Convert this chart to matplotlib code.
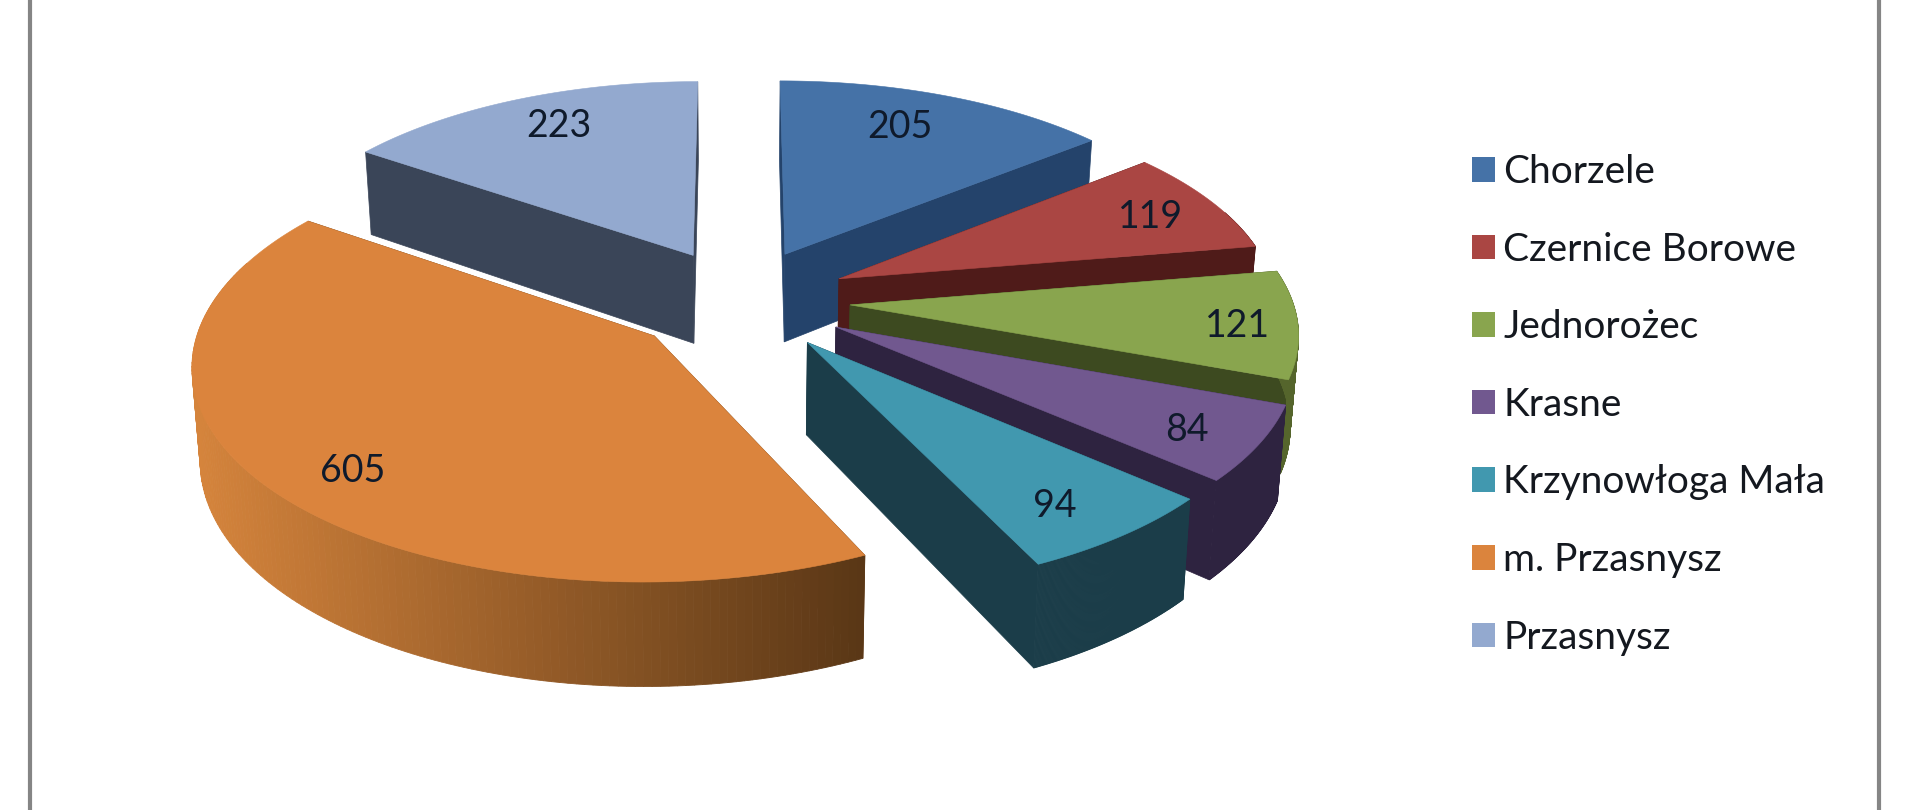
import numpy as np
import matplotlib
matplotlib.use('Agg')
import matplotlib.pyplot as plt
from matplotlib.patches import Polygon, Patch

plt.rcParams['font.family'] = ['Lato', 'DejaVu Sans']

# data
gminy = ['Chorzele', 'Czernice Borowe', 'Jednorożec', 'Krasne',
         'Krzynowłoga Mała', 'm. Przasnysz', 'Przasnysz']
values = [205, 119, 121, 84, 94, 605, 223]

# colours
top_colors = ['#4572a7', '#aa4643', '#89a54e', '#71588f', '#4198af', '#db843d', '#93a9cf']
cut_colors = ['#24436b', '#4f1b19', '#3d4a20', '#2e2340', '#1b3d49', '#6a4019', '#3a4558']
rim_left = ['#24436b', '#4f1b19', '#55652c', '#2e2340', '#1b3d49', '#d5843c', '#3a4558']
rim_right = ['#24436b', '#4f1b19', '#55652c', '#2e2340', '#1b3d49', '#5a3716', '#3a4558']

# layout of the fake 3d pie, in pixels of the output
CX, CY = 738, 300
A, B = 449, 208
H = 90
PERSP = 0.12
explode = [0.25, 0.25, 0.25, 0.25, 0.25, 0.24, 0.22]
radius = [0.98, 0.975, 0.985, 0.998, 1.0, 1.0, 0.975]
shift_y = [0, 0, 0, 0, 0, 3, -5]
label_r = [0.75, 0.82, 0.85, 0.83, 0.80, 0.80, 0.77]
label_dx = [-12, -3, 2, 3, 1, 2, 8]
label_dy = [-4, 4, 4, 7, 12, 19, -9]


def project(u, v, h=0.0, dy=0):
    s = 1 / (1 + PERSP * v)
    x = CX + A * u * s
    y = CY - B * v * s
    x = CX + (x - CX) * (1 - 0.015 * h)
    return x, y + H * s * h + dy


fig = plt.figure(figsize=(19.2, 8.1), dpi=100)
ax = fig.add_axes([0, 0, 1, 1])
ax.set_xlim(0, 1920)
ax.set_ylim(810, 0)
ax.axis('off')

ax.axvline(30, color='#858585', lw=3)
ax.axvline(1879, color='#858585', lw=3)

angles = np.radians(np.cumsum([0] + values) / sum(values) * 360)
mids = (angles[:-1] + angles[1:]) / 2

# back slices first
order = sorted(range(len(values)), key=lambda i: -np.cos(mids[i]))

for i in order:
    a0, a1 = angles[i], angles[i + 1]
    r, dy = radius[i], shift_y[i]
    eu, ev = explode[i] * np.sin(mids[i]), explode[i] * np.cos(mids[i])
    theta = np.linspace(a0, a1, 160)
    u = eu + r * np.sin(theta)
    v = ev + r * np.cos(theta)

    # the two cut faces
    for a in (a0, a1):
        ou, ov = eu + r * np.sin(a), ev + r * np.cos(a)
        pts = [project(eu, ev, 0, dy), project(ou, ov, 0, dy),
               project(ou, ov, 1, dy), project(eu, ev, 1, dy)]
        ax.add_patch(Polygon(pts, closed=True, fc=cut_colors[i], ec=cut_colors[i], lw=0.5))

    # outer wall, shaded strip by strip
    c_l = np.array(matplotlib.colors.to_rgb(rim_left[i]))
    c_r = np.array(matplotlib.colors.to_rgb(rim_right[i]))
    for k in range(len(theta) - 1):
        if np.cos(theta[k]) > 0.35:
            continue
        pts = [project(u[k], v[k], 0, dy), project(u[k + 1], v[k + 1], 0, dy),
               project(u[k + 1], v[k + 1], 1, dy), project(u[k], v[k], 1, dy)]
        t = np.clip((pts[0][0] - 195) / (865 - 195), 0, 1)
        col = c_l + (c_r - c_l) * t
        ax.add_patch(Polygon(pts, closed=True, fc=col, ec=col, lw=0.6))

    # top face
    top = [project(eu, ev, 0, dy)] + [project(a, b, 0, dy) for a, b in zip(u, v)]
    ax.add_patch(Polygon(top, closed=True, fc=top_colors[i], ec=top_colors[i], lw=0.4))

for i in order:
    eu, ev = explode[i] * np.sin(mids[i]), explode[i] * np.cos(mids[i])
    lx, ly = project(eu + label_r[i] * np.sin(mids[i]), ev + label_r[i] * np.cos(mids[i]))
    ax.text(lx + label_dx[i], ly + label_dy[i], str(values[i]), ha='center', va='center',
            fontsize=27, color='#0f1a2b')

handles = [Patch(fc=c, ec='none') for c in top_colors]
ax.legend(handles, gminy, loc='upper left', bbox_to_anchor=(1472 / 1920, 1 - 154 / 810),
          frameon=False, fontsize=28, labelcolor='#14181f', labelspacing=1.07,
          handlelength=0.6, handleheight=0.6, handletextpad=0.2, borderpad=0, borderaxespad=0)

fig.savefig('out.png', dpi=100)
